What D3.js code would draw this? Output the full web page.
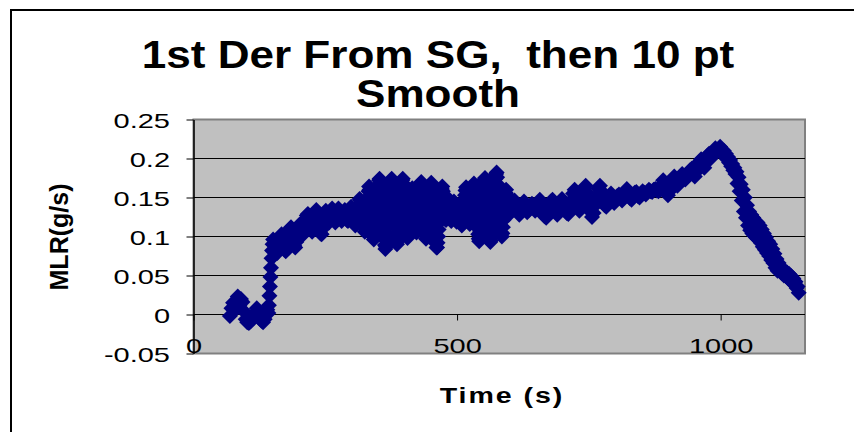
<!DOCTYPE html>
<html>
<head>
<meta charset="utf-8">
<script src="https://cdn.jsdelivr.net/npm/d3@7"></script>
<style>
  html, body { margin: 0; padding: 0; background: #fff; }
  svg { display: block; font-family: Arial, "Liberation Sans", sans-serif; }
</style>
</head>
<body>
<svg id="chart" width="854" height="432"></svg>
<script>
// Chart text
const titleLines = ["1st Der From SG,  then 10 pt", "Smooth"];
const xLabel = "Time (s)";
const yLabel = "MLR(g/s)";

// Axis ticks and ranges
const xTicks = [0, 500, 1000];
const yTicks = [-0.05, 0, 0.05, 0.1, 0.15, 0.2, 0.25];
const xDomain = [0, 1160];
const yDomain = [-0.05, 0.25];

// Mass loss rate readings [time (s), MLR (g/s)], grouped by burning phase
const ignition = [
  [69, -0.002], [72, 0.008], [75, 0.015], [78, 0.005], [81, 0.018], [84, 0.023],
  [87, 0.012], [90, 0.020], [93, 0.016], [96, 0.004], [99, -0.006], [102, -0.010],
  [105, -0.011], [108, -0.009], [111, -0.006], [114, -0.004], [117, 0.002], [120, 0.008],
  [123, 0.004], [126, -0.003], [129, -0.008], [132, -0.010], [135, -0.006], [138, 0.000],
  [140, 0.006], [142, 0.002], [143, 0.012], [144, 0.024], [145, 0.036], [146, 0.048],
  [147, 0.060], [148, 0.072], [149, 0.082], [150, 0.090], [151, 0.096]
];

const growth = [
  [153, 0.090], [155, 0.084], [157, 0.080], [159, 0.079], [161, 0.084], [163, 0.092], [165, 0.100], [167, 0.103], [169, 0.098], [171, 0.090],
  [173, 0.083], [175, 0.081], [177, 0.087], [179, 0.095], [181, 0.103], [183, 0.110], [185, 0.112], [187, 0.104], [189, 0.096], [191, 0.088],
  [193, 0.086], [195, 0.093], [197, 0.101], [199, 0.109], [201, 0.115], [203, 0.116], [205, 0.108], [207, 0.102], [209, 0.105], [211, 0.113],
  [213, 0.121], [215, 0.127], [217, 0.129], [219, 0.122], [221, 0.115], [223, 0.110], [225, 0.106], [227, 0.112], [229, 0.120], [231, 0.128],
  [233, 0.134], [235, 0.130], [237, 0.121], [239, 0.112], [241, 0.104], [243, 0.103], [245, 0.110], [247, 0.118], [249, 0.126], [251, 0.133],
  [253, 0.128], [255, 0.121], [257, 0.118], [259, 0.124], [261, 0.131], [263, 0.136], [265, 0.130], [267, 0.123], [269, 0.118], [271, 0.122],
  [273, 0.129], [275, 0.136], [277, 0.132], [279, 0.125], [281, 0.120], [283, 0.124], [285, 0.131], [287, 0.134], [289, 0.128], [291, 0.121],
  [293, 0.120], [295, 0.126], [297, 0.133], [299, 0.138], [301, 0.132], [303, 0.124], [305, 0.117], [307, 0.114], [309, 0.121], [311, 0.130],
  [313, 0.140], [315, 0.148], [317, 0.146], [319, 0.136], [321, 0.125], [323, 0.114], [325, 0.106], [327, 0.110], [329, 0.124]
];

const burning = [
  [330, 0.140], [331, 0.150], [332, 0.158], [333, 0.164], [334, 0.160], [335, 0.152], [336, 0.143], [337, 0.134], [338, 0.125], [339, 0.116],
  [340, 0.108], [341, 0.100], [342, 0.096], [343, 0.099], [344, 0.106], [345, 0.114], [346, 0.122], [347, 0.131], [348, 0.140], [349, 0.149],
  [350, 0.158], [351, 0.166], [352, 0.172], [353, 0.174], [354, 0.168], [355, 0.160], [356, 0.151], [357, 0.142], [358, 0.133], [359, 0.124],
  [360, 0.115], [361, 0.106], [362, 0.097], [363, 0.089], [364, 0.084], [365, 0.087], [366, 0.095], [367, 0.104], [368, 0.113], [369, 0.122],
  [370, 0.131], [371, 0.140], [372, 0.149], [373, 0.158], [374, 0.166], [375, 0.172], [376, 0.174], [377, 0.167], [378, 0.158], [379, 0.149],
  [380, 0.140], [381, 0.131], [382, 0.122], [383, 0.113], [384, 0.104], [385, 0.096], [386, 0.090], [387, 0.094], [388, 0.102], [389, 0.111],
  [390, 0.120], [391, 0.129], [392, 0.138], [393, 0.147], [394, 0.156], [395, 0.165], [396, 0.172], [397, 0.174], [398, 0.168], [399, 0.160],
  [400, 0.151], [401, 0.142], [402, 0.133], [403, 0.124], [404, 0.115], [405, 0.106], [406, 0.098], [407, 0.102], [408, 0.110], [409, 0.119],
  [410, 0.128], [411, 0.137], [412, 0.146], [413, 0.154], [414, 0.160], [415, 0.162], [416, 0.155], [417, 0.147], [418, 0.139], [419, 0.130],
  [420, 0.122], [421, 0.114], [422, 0.107], [423, 0.105], [424, 0.110], [425, 0.118], [426, 0.127], [427, 0.136], [428, 0.145], [429, 0.154],
  [430, 0.162], [431, 0.168], [432, 0.170], [433, 0.164], [434, 0.156], [435, 0.147], [436, 0.138], [437, 0.129], [438, 0.120], [439, 0.111],
  [440, 0.103], [441, 0.097], [442, 0.100], [443, 0.108], [444, 0.117], [445, 0.126], [446, 0.135], [447, 0.144], [448, 0.153], [449, 0.161],
  [450, 0.167], [451, 0.169], [452, 0.162], [453, 0.153], [454, 0.144], [455, 0.135], [456, 0.126], [457, 0.117], [458, 0.108], [459, 0.099],
  [460, 0.091], [461, 0.086], [462, 0.086], [463, 0.092], [464, 0.100], [465, 0.109], [466, 0.118], [467, 0.127], [468, 0.136], [469, 0.145],
  [470, 0.154], [471, 0.161], [472, 0.164], [473, 0.158], [474, 0.150], [475, 0.142], [476, 0.134], [477, 0.127], [478, 0.122], [479, 0.121],
  [480, 0.126], [481, 0.133], [482, 0.140], [483, 0.146], [484, 0.148], [485, 0.143], [486, 0.136], [487, 0.129], [488, 0.123], [489, 0.120],
  [490, 0.122], [491, 0.128], [492, 0.135], [493, 0.141], [494, 0.145], [495, 0.142], [496, 0.135], [497, 0.128], [498, 0.122], [499, 0.119],
  [500, 0.120], [501, 0.126], [502, 0.133], [503, 0.139], [504, 0.141], [505, 0.137], [506, 0.130], [507, 0.123], [508, 0.117], [509, 0.114],
  [510, 0.116], [511, 0.122], [512, 0.130], [513, 0.138], [514, 0.146], [515, 0.153], [516, 0.159], [517, 0.163], [518, 0.160], [519, 0.152],
  [520, 0.144], [521, 0.136], [522, 0.128], [523, 0.121], [524, 0.116], [525, 0.118], [526, 0.125], [527, 0.133], [528, 0.141], [529, 0.149],
  [530, 0.157], [531, 0.164], [532, 0.168], [533, 0.164], [534, 0.156], [535, 0.147], [536, 0.138], [537, 0.129], [538, 0.120], [539, 0.111],
  [540, 0.103], [541, 0.097], [542, 0.094], [543, 0.098], [544, 0.106], [545, 0.115], [546, 0.124], [547, 0.133], [548, 0.142], [549, 0.151],
  [550, 0.160], [551, 0.168], [552, 0.173], [553, 0.175], [554, 0.169], [555, 0.160], [556, 0.151], [557, 0.142], [558, 0.133], [559, 0.124],
  [560, 0.115], [561, 0.106], [562, 0.098], [563, 0.093], [564, 0.095], [565, 0.103], [566, 0.112], [567, 0.121], [568, 0.130], [569, 0.139],
  [570, 0.148], [571, 0.157], [572, 0.166], [573, 0.174], [574, 0.180], [575, 0.182], [576, 0.176], [577, 0.167], [578, 0.158], [579, 0.149],
  [580, 0.140], [581, 0.131], [582, 0.122], [583, 0.113], [584, 0.105], [585, 0.100], [586, 0.104], [587, 0.112], [588, 0.121], [589, 0.130],
  [590, 0.139], [591, 0.148], [592, 0.156], [593, 0.160], [594, 0.154], [595, 0.146], [596, 0.138], [597, 0.131], [598, 0.128], [599, 0.132],
  [600, 0.138]
];

const steady = [
  [603, 0.134], [606, 0.141], [609, 0.146], [612, 0.140], [615, 0.132], [618, 0.128], [621, 0.134], [624, 0.141], [627, 0.145], [630, 0.138],
  [633, 0.131], [636, 0.134], [639, 0.140], [642, 0.142], [645, 0.137], [648, 0.133], [651, 0.136], [654, 0.142], [657, 0.147], [660, 0.140],
  [663, 0.132], [666, 0.126], [669, 0.124], [672, 0.130], [675, 0.138], [678, 0.145], [681, 0.147], [684, 0.140], [687, 0.132], [690, 0.128],
  [693, 0.134], [696, 0.142], [699, 0.148], [702, 0.143], [705, 0.136], [708, 0.130], [711, 0.129], [714, 0.137], [717, 0.146], [720, 0.155],
  [723, 0.160], [726, 0.152], [729, 0.142], [732, 0.133], [735, 0.138], [738, 0.148], [741, 0.158], [744, 0.165], [747, 0.156], [750, 0.144],
  [753, 0.132], [756, 0.125], [759, 0.130], [762, 0.140], [765, 0.152], [768, 0.162], [771, 0.165], [774, 0.158], [777, 0.148], [780, 0.140],
  [783, 0.138], [786, 0.145], [789, 0.152], [792, 0.155], [795, 0.149], [798, 0.143], [801, 0.146], [804, 0.152], [807, 0.154], [810, 0.150],
  [813, 0.146], [816, 0.150], [819, 0.156], [822, 0.161], [825, 0.156], [828, 0.149], [831, 0.147], [834, 0.151], [837, 0.156], [840, 0.157],
  [843, 0.152], [846, 0.150], [849, 0.154], [852, 0.158], [855, 0.156], [858, 0.154], [861, 0.157], [864, 0.160], [867, 0.158], [870, 0.157],
  [873, 0.160], [876, 0.161], [879, 0.159], [882, 0.158], [885, 0.160], [888, 0.166], [891, 0.172], [894, 0.166], [897, 0.158], [900, 0.153],
  [903, 0.158], [906, 0.166], [909, 0.173], [912, 0.177], [915, 0.170], [918, 0.165], [921, 0.170], [924, 0.176], [927, 0.180], [930, 0.176],
  [933, 0.173], [936, 0.177], [939, 0.181], [942, 0.185], [945, 0.187], [948, 0.181], [951, 0.177], [954, 0.183], [957, 0.190], [960, 0.196],
  [963, 0.199], [966, 0.192], [969, 0.188], [972, 0.196], [975, 0.204], [978, 0.206], [981, 0.200], [984, 0.204], [987, 0.210], [990, 0.213],
  [993, 0.209], [996, 0.212], [999, 0.215]
];

const decay = [
  [1002, 0.212], [1004, 0.206], [1006, 0.210], [1008, 0.203], [1010, 0.206], [1012, 0.199], [1014, 0.202], [1016, 0.195], [1018, 0.198], [1020, 0.190],
  [1022, 0.193], [1024, 0.185], [1026, 0.188], [1028, 0.180], [1030, 0.183], [1032, 0.168], [1034, 0.176], [1036, 0.158], [1038, 0.167], [1040, 0.146],
  [1042, 0.160], [1044, 0.132], [1046, 0.150], [1048, 0.124], [1050, 0.140], [1052, 0.114], [1054, 0.132], [1056, 0.108], [1058, 0.128], [1060, 0.104],
  [1062, 0.124], [1064, 0.101], [1066, 0.120], [1068, 0.098], [1070, 0.118], [1072, 0.096], [1074, 0.114], [1076, 0.092], [1078, 0.109], [1080, 0.087],
  [1082, 0.104], [1084, 0.083], [1086, 0.099], [1088, 0.079], [1090, 0.094], [1092, 0.075], [1094, 0.090], [1096, 0.070], [1098, 0.084], [1100, 0.066],
  [1102, 0.078], [1104, 0.060], [1106, 0.071], [1108, 0.056], [1110, 0.066], [1112, 0.056], [1114, 0.060], [1116, 0.053], [1118, 0.058], [1120, 0.050],
  [1122, 0.056], [1124, 0.049], [1126, 0.054], [1128, 0.046], [1130, 0.052], [1132, 0.044], [1134, 0.049], [1136, 0.041], [1138, 0.046], [1140, 0.038],
  [1142, 0.042], [1144, 0.034], [1146, 0.036], [1148, 0.028]
];

const readings = [].concat(ignition, growth, burning, steady, decay);

// Layout
const W = 854, H = 432;
const plot = { left: 193.5, right: 805, top: 119.5, bottom: 353.5 };
const textScale = 1.38;
const marker = 8; // half-diagonal of the diamond marker

const svg = d3.select("#chart");
const x = d3.scaleLinear().domain(xDomain).range([plot.left, plot.right]);
const y = d3.scaleLinear().domain(yDomain).range([plot.bottom, plot.top]);

svg.append("rect").attr("width", W).attr("height", H).attr("fill", "#fff");

// Chart frame (runs off the right and bottom of the view)
svg.append("path")
  .attr("d", "M11,440V10H860")
  .attr("fill", "none").attr("stroke", "#000").attr("stroke-width", 2);

// Plot area
svg.append("rect")
  .attr("x", plot.left).attr("y", plot.top)
  .attr("width", plot.right - plot.left).attr("height", plot.bottom - plot.top)
  .attr("fill", "#c0c0c0").attr("stroke", "#808080").attr("stroke-width", 2);

// Horizontal gridlines
svg.append("g").selectAll("line")
  .data(yTicks.filter(v => v > yDomain[0] && v < yDomain[1]))
  .join("line")
  .attr("x1", plot.left).attr("x2", plot.right)
  .attr("y1", d => y(d)).attr("y2", d => y(d))
  .attr("stroke", "#000").attr("stroke-width", 1);

// Y axis
const gy = svg.append("g")
  .attr("transform", `translate(${plot.left},0)`)
  .call(d3.axisLeft(y).tickValues(yTicks).tickSize(7).tickSizeOuter(0).tickFormat(d => String(d)));
gy.attr("font-size", null).attr("font-family", null);
gy.select(".domain").attr("stroke", "#000").attr("stroke-width", 1.5);
gy.selectAll(".tick line").attr("stroke", "#000");
gy.selectAll(".tick text")
  .attr("x", null).attr("dy", null)
  .attr("text-anchor", "end")
  .attr("font-size", 21).attr("fill", "#000")
  .attr("transform", `translate(-23.5,7.5) scale(${textScale},1)`);

// Data markers
const diamond = `M0,${-marker}L${marker},0L0,${marker}L${-marker},0Z`;
svg.append("g").selectAll("path")
  .data(readings)
  .join("path")
  .attr("d", diamond)
  .attr("transform", d => `translate(${x(d[0])},${y(d[1])})`)
  .attr("fill", "#000080");

// X axis crosses at zero; labels sit along the bottom of the plot
const gx = svg.append("g")
  .attr("transform", `translate(0,${y(0)})`)
  .call(d3.axisBottom(x).tickValues(xTicks).tickSize(6).tickSizeOuter(0).tickFormat(d => String(d)));
gx.attr("font-size", null).attr("font-family", null);
gx.select(".domain").remove();
gx.selectAll(".tick line").attr("stroke", "#000");
gx.selectAll(".tick text")
  .attr("y", null).attr("dy", null)
  .attr("text-anchor", "middle")
  .attr("font-size", 21).attr("fill", "#000")
  .attr("transform", `translate(0,${plot.bottom - 0.5 - y(0)}) scale(${textScale},1)`);

// Title
svg.append("g").selectAll("text")
  .data(titleLines)
  .join("text")
  .attr("transform", (d, i) => `translate(438,${68 + i * 39}) scale(1.16,1)`)
  .attr("text-anchor", "middle")
  .attr("font-size", 38).attr("font-weight", "bold")
  .style("white-space", "pre")
  .text(d => d);

// Axis titles
svg.append("text")
  .attr("transform", "translate(502,403) scale(1.3,1)")
  .attr("text-anchor", "middle")
  .attr("font-size", 22).attr("font-weight", "bold")
  .attr("letter-spacing", 1.5)
  .text(xLabel);

svg.append("text")
  .attr("transform", "translate(68,237) rotate(-90)")
  .attr("text-anchor", "middle")
  .attr("font-size", 25).attr("font-weight", "bold")
  .text(yLabel);
</script>
</body>
</html>
